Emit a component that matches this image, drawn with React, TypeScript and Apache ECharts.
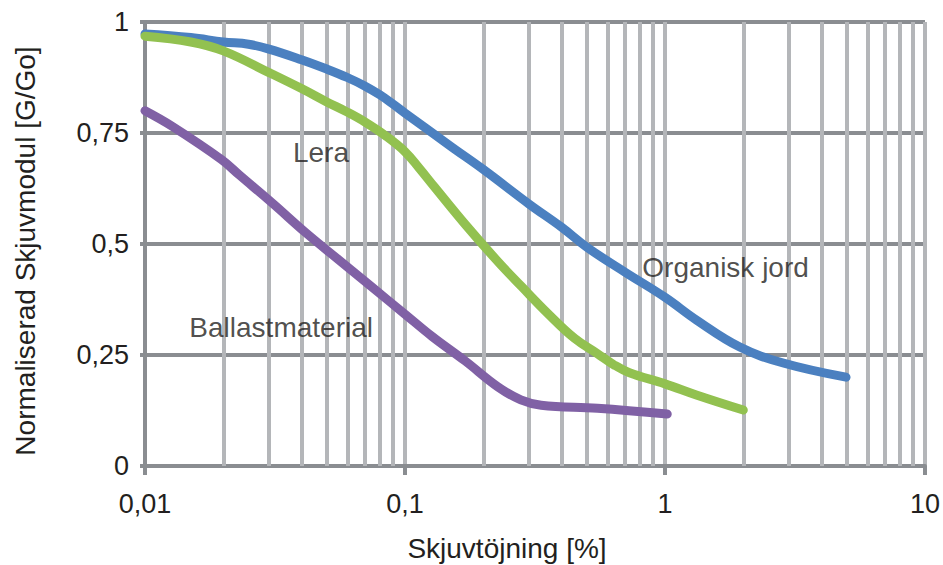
import React, { useEffect, useRef } from "react";
import * as echarts from "echarts";

// Shear strain [%] (x) vs normalised shear modulus G/Go (y)
const organiskX = [0.01, 0.015, 0.02, 0.025, 0.03, 0.04, 0.05, 0.06, 0.07, 0.08, 0.09, 0.1, 0.15, 0.2, 0.3, 0.4, 0.5, 0.7, 1.0, 1.32, 1.94, 2.85, 4.97];
const organiskY = [0.973, 0.965, 0.955, 0.95, 0.939, 0.915, 0.894, 0.875, 0.856, 0.836, 0.815, 0.795, 0.72, 0.668, 0.59, 0.538, 0.493, 0.437, 0.38, 0.329, 0.268, 0.232, 0.2];

const leraX = [0.01, 0.015, 0.02, 0.03, 0.04, 0.05, 0.06, 0.07, 0.085, 0.1, 0.113, 0.13, 0.17, 0.228, 0.28, 0.355, 0.45, 0.55, 0.636, 0.73, 1.0, 1.32, 2.0];
const leraY = [0.968, 0.955, 0.935, 0.886, 0.85, 0.82, 0.797, 0.775, 0.742, 0.708, 0.672, 0.628, 0.545, 0.46, 0.405, 0.343, 0.287, 0.253, 0.228, 0.21, 0.185, 0.16, 0.126];

const ballastX = [0.01, 0.0128, 0.0197, 0.0231, 0.0309, 0.0416, 0.0557, 0.0746, 0.1, 0.127, 0.17, 0.228, 0.279, 0.334, 0.55, 1.02];
const ballastY = [0.8, 0.764, 0.69, 0.655, 0.592, 0.525, 0.464, 0.403, 0.342, 0.292, 0.237, 0.178, 0.149, 0.137, 0.13, 0.117];

const seriesNames = ["Organisk jord", "Lera", "Ballastmaterial"];
const seriesColors = ["#4b80c0", "#92c150", "#8061a5"];

// Annotation positions in data coordinates
const annotationNames = ["Lera", "Organisk jord", "Ballastmaterial"];
const annotationX = [0.0475, 1.71, 0.0334];
const annotationY = [0.705, 0.446, 0.313];

const xAxisTitle = "Skjuvtöjning [%]";
const yAxisTitle = "Normaliserad Skjuvmodul [G/Go]";
const xTickLabels = ["0,01", "0,1", "1", "10"];
const yTickLabels = ["0", "0,25", "0,5", "0,75", "1"];
const minorGridX = [
  0.02, 0.03, 0.04, 0.05, 0.06, 0.07, 0.08, 0.09,
  0.2, 0.3, 0.4, 0.5, 0.6, 0.7, 0.8, 0.9,
  2, 3, 4, 5, 6, 7, 8, 9,
];

const zip = (xs: number[], ys: number[]) => xs.map((x, i) => [x, ys[i]]);

export default function App() {
  const ref = useRef<HTMLDivElement>(null);
  useEffect(() => {
    if (!ref.current) return;
    const chart = echarts.init(ref.current, undefined, { renderer: "svg" });
    const font = "'Liberation Sans', Arial, sans-serif";
    const dark = "#8a8d91";
    const light = "#b4b6b9";
    const textColor = "#231f20";
    const data = [zip(organiskX, organiskY), zip(leraX, leraY), zip(ballastX, ballastY)];
    chart.setOption({
      animation: false,
      backgroundColor: "#ffffff",
      grid: { left: 145, right: 15, top: 22, bottom: 99, containLabel: false },
      graphic: [
        {
          type: "text",
          x: 507,
          y: 548,
          style: {
            text: xAxisTitle,
            fontFamily: font,
            fontSize: 28,
            fill: textColor,
            align: "center",
            verticalAlign: "middle",
          },
        },
        {
          type: "text",
          x: 25,
          y: 251,
          rotation: Math.PI / 2,
          style: {
            text: yAxisTitle,
            fontFamily: font,
            fontSize: 28,
            fill: textColor,
            align: "center",
            verticalAlign: "middle",
          },
        },
      ],
      xAxis: {
        type: "log",
        logBase: 10,
        min: 0.01,
        max: 10,
        axisLine: { show: true, onZero: false, lineStyle: { color: dark, width: 4 } },
        axisTick: { show: true, length: 9, lineStyle: { color: dark, width: 4 } },
        axisLabel: {
          fontFamily: font,
          fontSize: 27,
          color: textColor,
          margin: 24,
          formatter: (v: number) => xTickLabels[Math.round(Math.log10(v)) + 2] ?? "",
        },
        splitLine: { show: true, lineStyle: { color: light, width: 4 } },
        minorTick: { show: false },
      },
      yAxis: {
        type: "value",
        min: 0,
        max: 1,
        interval: 0.25,
        axisLine: { show: true, lineStyle: { color: dark, width: 4 } },
        axisTick: { show: true, length: 5, lineStyle: { color: dark, width: 4 } },
        axisLabel: {
          fontFamily: font,
          fontSize: 27,
          color: textColor,
          margin: 16,
          formatter: (v: number) => yTickLabels[Math.round(v * 4)] ?? "",
        },
        splitLine: { show: true, lineStyle: { color: dark, width: 4 } },
      },
      series: [
        {
          type: "line",
          name: "minorGrid",
          data: [],
          z: 1,
          silent: true,
          markLine: {
            silent: true,
            z: 1,
            symbol: ["none", "none"],
            label: { show: false },
            lineStyle: { color: light, width: 4, type: "solid" },
            data: minorGridX.map((x) => ({ xAxis: x })),
          },
        },
        ...seriesNames.map((name, i) => ({
          type: "line",
          name,
          data: data[i],
          smooth: 0.4,
          showSymbol: false,
          symbol: "none",
          z: 3,
          lineStyle: { color: seriesColors[i], width: 9, cap: "round", join: "round" },
        })),
        {
          type: "scatter",
          name: "labels",
          symbolSize: 0,
          z: 6,
          silent: true,
          label: {
            show: true,
            position: "inside",
            formatter: "{b}",
            fontFamily: font,
            fontSize: 28,
            color: textColor,
          },
          data: annotationNames.map((n, i) => ({ name: n, value: [annotationX[i], annotationY[i]] })),
        },
      ],
    });
    return () => chart.dispose();
  }, []);
  return (
    <div
      ref={ref}
      style={{ position: "fixed", left: 0, top: 0, width: 943, height: 565, background: "#fff" }}
    />
  );
}
